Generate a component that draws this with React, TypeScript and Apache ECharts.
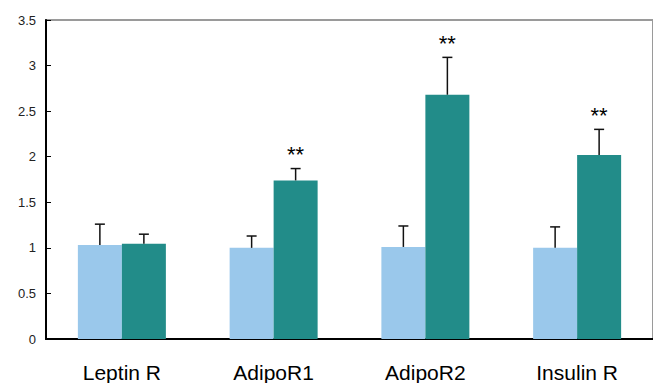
import React, { useEffect, useRef } from "react";
import * as echarts from "echarts";

const categories = ["Leptin R", "AdipoR1", "AdipoR2", "Insulin R"];
const controlValues = [1.03, 1.0, 1.01, 1.0];
const controlErrors = [0.23, 0.13, 0.23, 0.23];
const treatedValues = [1.045, 1.74, 2.68, 2.02];
const treatedErrors = [0.105, 0.13, 0.41, 0.28];
const significance = ["", "**", "**", "**"];
const yTicks = [0, 0.5, 1, 1.5, 2, 2.5, 3, 3.5];

const BAR_W = 44;
const LIGHT = "#9AC8EB";
const TEAL = "#228C89";

export default function App() {
  const ref = useRef<HTMLDivElement>(null);
  useEffect(() => {
    if (!ref.current) return;
    const chart = echarts.init(ref.current, null, { renderer: "svg" });

    const errData: any[] = [];
    categories.forEach((_, i) => {
      errData.push([i, controlValues[i], controlErrors[i], -1, ""]);
      errData.push([i, treatedValues[i], treatedErrors[i], 1, significance[i]]);
    });

    chart.setOption({
      animation: false,
      grid: {
        left: 46,
        top: 20,
        width: 612,
        height: 320,
        show: true,
        borderColor: "#9a9a9a",
        borderWidth: 2,
        backgroundColor: "transparent",
      },
      xAxis: {
        type: "category",
        data: categories,
        axisLine: { lineStyle: { color: "#000", width: 2 } },
        axisTick: { inside: true, length: 6, lineStyle: { color: "#000", width: 1 } },
        axisLabel: {
          color: "#000",
          fontSize: 21,
          fontFamily: "Liberation Sans, Arial, sans-serif",
          margin: 23,
        },
      },
      yAxis: {
        type: "value",
        min: 0,
        max: 3.5,
        interval: 0.5,
        axisLine: { show: true, lineStyle: { color: "#000", width: 2 } },
        axisTick: { show: true, inside: true, length: 5, lineStyle: { color: "#000" } },
        splitLine: { show: false },
        axisLabel: {
          color: "#222",
          fontSize: 13,
          fontFamily: "Liberation Sans, Arial, sans-serif",
          margin: 10,
          formatter: (v: number) => (yTicks.includes(v) ? String(v) : ""),
        },
      },
      series: [
        {
          type: "bar",
          data: controlValues,
          barWidth: BAR_W,
          barGap: "0%",
          itemStyle: { color: LIGHT },
        },
        {
          type: "bar",
          data: treatedValues,
          barWidth: BAR_W,
          barGap: "0%",
          itemStyle: { color: TEAL },
        },
        {
          type: "custom",
          data: errData,
          z: 10,
          renderItem: (params: any, api: any) => {
            const idx = api.value(0);
            const val = api.value(1);
            const err = api.value(2);
            const side = api.value(3);
            const star = errData[params.dataIndex][4];
            const base = api.coord([idx, val]);
            const top = api.coord([idx, val + err]);
            const x = base[0] + (side * BAR_W) / 2;
            const children: any[] = [
              {
                type: "line",
                shape: { x1: x, y1: base[1], x2: x, y2: top[1] },
                style: { stroke: "#111", lineWidth: 1.5 },
              },
              {
                type: "line",
                shape: { x1: x - 5, y1: top[1], x2: x + 5, y2: top[1] },
                style: { stroke: "#111", lineWidth: 1.5 },
              },
            ];
            if (star) {
              children.push({
                type: "text",
                style: {
                  text: star,
                  x: x,
                  y: top[1] - 3,
                  align: "center",
                  verticalAlign: "bottom",
                  fontSize: 22,
                  fontFamily: "Liberation Sans, Arial, sans-serif",
                  fill: "#000",
                },
              });
            }
            return { type: "group", children };
          },
        },
      ],
    });
    return () => chart.dispose();
  }, []);
  return (
    <div
      ref={ref}
      style={{ position: "fixed", left: 0, top: 0, width: 653, height: 383, background: "#fff" }}
    />
  );
}
